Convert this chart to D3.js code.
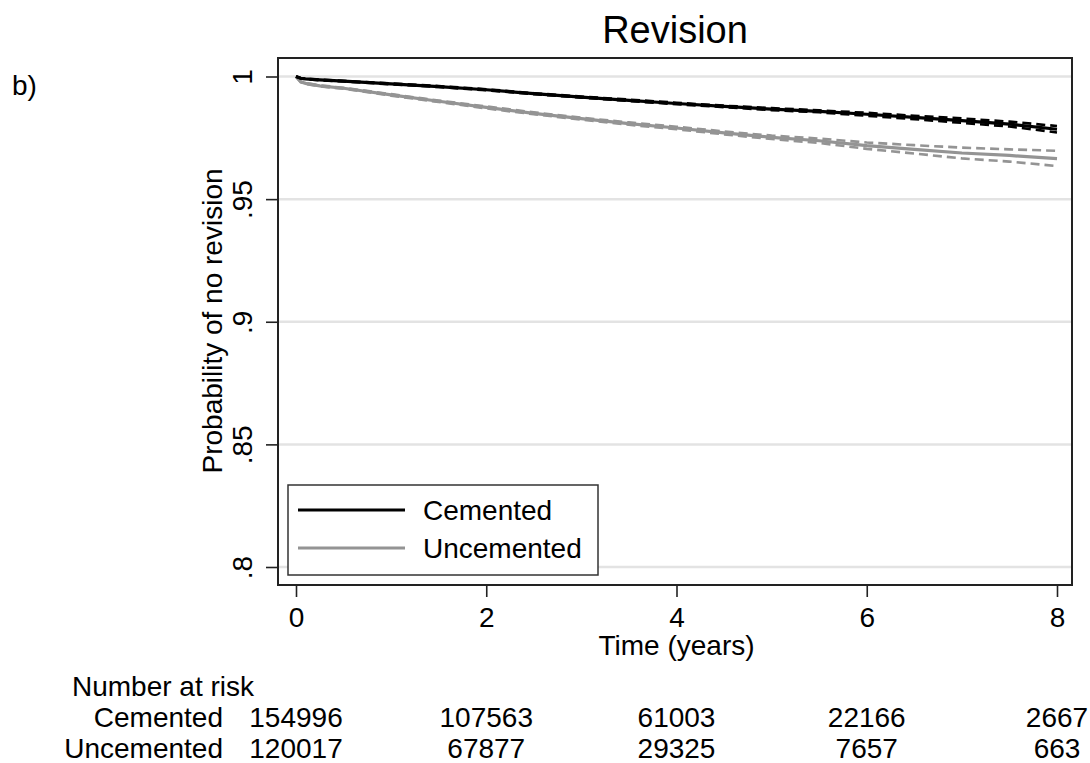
<!DOCTYPE html>
<html>
<head>
<meta charset="utf-8">
<script src="https://cdn.jsdelivr.net/npm/d3@7"></script>
<style>
  html, body { margin: 0; padding: 0; background: #fff; }
  svg { display: block; font-family: "Liberation Sans", Arial, sans-serif; }
</style>
</head>
<body>
<svg id="chart" width="1090" height="763"></svg>
<script>
// Kaplan-Meier estimates of revision-free survival with 95% confidence bands
const times = [0, 0.05, 0.1, 0.25, 0.5, 1, 1.5, 2, 2.5, 3, 3.5, 4, 4.5, 5, 5.5, 6, 6.5, 7, 7.5, 8];

const cemented      = [1, 0.9993, 0.9990, 0.9986, 0.9981, 0.9970, 0.9959, 0.9946, 0.9930, 0.9916, 0.9903, 0.9890, 0.9878, 0.9867, 0.9858, 0.9846, 0.9833, 0.9820, 0.9806, 0.9785];
const cementedUpper = [1, 0.9994, 0.9991, 0.9987, 0.9982, 0.9972, 0.9961, 0.9948, 0.9932, 0.9918, 0.9906, 0.9893, 0.9881, 0.9871, 0.9862, 0.9852, 0.9840, 0.9829, 0.9816, 0.9798];
const cementedLower = [1, 0.9992, 0.9989, 0.9985, 0.9980, 0.9968, 0.9957, 0.9944, 0.9928, 0.9914, 0.9900, 0.9887, 0.9875, 0.9863, 0.9854, 0.9840, 0.9826, 0.9811, 0.9796, 0.9772];

const uncemented      = [1, 0.9978, 0.9972, 0.9962, 0.9952, 0.9925, 0.9899, 0.9874, 0.9850, 0.9828, 0.9808, 0.9790, 0.9770, 0.9752, 0.9738, 0.9718, 0.9703, 0.9688, 0.9678, 0.9665];
const uncementedUpper = [1, 0.9979, 0.9974, 0.9964, 0.9954, 0.9928, 0.9902, 0.9878, 0.9854, 0.9832, 0.9813, 0.9795, 0.9776, 0.9759, 0.9747, 0.9731, 0.9720, 0.9710, 0.9703, 0.9697];
const uncementedLower = [1, 0.9977, 0.9970, 0.9960, 0.9950, 0.9922, 0.9896, 0.9870, 0.9846, 0.9824, 0.9803, 0.9785, 0.9764, 0.9745, 0.9729, 0.9705, 0.9686, 0.9666, 0.9653, 0.9635];

const yTicks = [0.8, 0.85, 0.9, 0.95, 1];
const yTickLabels = [".8", ".85", ".9", ".95", "1"];
const xTicks = [0, 2, 4, 6, 8];

const groups = ["Cemented", "Uncemented"];
const riskTimes = [0, 2, 4, 6, 8];
const riskCemented = [154996, 107563, 61003, 22166, 2667];
const riskUncemented = [120017, 67877, 29325, 7657, 663];

const svg = d3.select("#chart");
const FONT = 28;

const frame = { left: 278, right: 1072, top: 58, bottom: 585 };
const x = d3.scaleLinear().domain([0, 8]).range([296, 1057]);
const y = d3.scaleLinear().domain([0.8, 1]).range([567, 76.5]);

// Panel letter and title
svg.append("text").attr("x", 12).attr("y", 95).attr("font-size", FONT).text("b)");
svg.append("text").attr("x", 675).attr("y", 43)
  .attr("text-anchor", "middle").attr("font-size", 38).text("Revision");

// Horizontal grid lines
svg.append("g").selectAll("line").data(yTicks).join("line")
  .attr("x1", frame.left + 1).attr("x2", frame.right - 1)
  .attr("y1", d => y(d)).attr("y2", d => y(d))
  .attr("stroke", "#e3e3e3").attr("stroke-width", 2.5);

// Survival curves and confidence limits
const line = d3.line().x(d => x(d[0])).y(d => y(d[1])).curve(d3.curveLinear);
const series = [
  { est: cemented, lo: cementedLower, hi: cementedUpper, color: "#000000" },
  { est: uncemented, lo: uncementedLower, hi: uncementedUpper, color: "#949494" }
];
// grey first so black sits on top
series.slice().reverse().forEach(s => {
  [s.lo, s.hi].forEach(b => {
    svg.append("path").attr("d", line(times.map((t, i) => [t, b[i]])))
      .attr("fill", "none").attr("stroke", s.color).attr("stroke-width", 2.6)
      .attr("stroke-dasharray", "9,5");
  });
  svg.append("path").attr("d", line(times.map((t, i) => [t, s.est[i]])))
    .attr("fill", "none").attr("stroke", s.color).attr("stroke-width", 3.2);
});

// Plot frame
svg.append("rect").attr("x", frame.left).attr("y", frame.top)
  .attr("width", frame.right - frame.left).attr("height", frame.bottom - frame.top)
  .attr("fill", "none").attr("stroke", "#222").attr("stroke-width", 2);

// Y axis
const yAxis = svg.append("g").attr("transform", `translate(${frame.left},0)`)
  .call(d3.axisLeft(y).tickValues(yTicks).tickSize(12).tickFormat((d, i) => yTickLabels[i]));
yAxis.select(".domain").remove();
yAxis.selectAll(".tick line").attr("stroke", "#222").attr("stroke-width", 1.6);
yAxis.selectAll(".tick text")
  .attr("font-size", FONT).attr("font-family", "Liberation Sans, Arial, sans-serif")
  .attr("fill", "#000").attr("x", null).attr("dy", null)
  .attr("text-anchor", "middle")
  .attr("transform", "translate(-26,0) rotate(-90)");

svg.append("text")
  .attr("transform", `translate(222,321) rotate(-90)`)
  .attr("text-anchor", "middle").attr("font-size", FONT).text("Probability of no revision");

// X axis
const xAxis = svg.append("g").attr("transform", `translate(0,${frame.bottom})`)
  .call(d3.axisBottom(x).tickValues(xTicks).tickSize(12).tickPadding(10));
xAxis.select(".domain").remove();
xAxis.selectAll(".tick line").attr("stroke", "#222").attr("stroke-width", 1.6);
xAxis.selectAll(".tick text")
  .attr("font-size", FONT).attr("font-family", "Liberation Sans, Arial, sans-serif").attr("fill", "#000");

svg.append("text").attr("x", x(4)).attr("y", 655)
  .attr("text-anchor", "middle").attr("font-size", FONT).text("Time (years)");

// Legend
const legend = svg.append("g");
legend.append("rect").attr("x", 288).attr("y", 485).attr("width", 310).attr("height", 90)
  .attr("fill", "#fff").attr("stroke", "#333").attr("stroke-width", 1.5);
groups.forEach((g, i) => {
  const ly = 510 + i * 38;
  legend.append("line").attr("x1", 298).attr("x2", 405).attr("y1", ly).attr("y2", ly)
    .attr("stroke", series[i].color).attr("stroke-width", 3);
  legend.append("text").attr("x", 423).attr("y", ly + 10).attr("font-size", FONT).text(g);
});

// Number at risk table
svg.append("text").attr("x", 72).attr("y", 696).attr("font-size", FONT).text("Number at risk");
[riskCemented, riskUncemented].forEach((row, i) => {
  const ry = 727 + i * 31;
  svg.append("text").attr("x", 223).attr("y", ry).attr("text-anchor", "end")
    .attr("font-size", FONT).text(groups[i]);
  svg.append("g").selectAll("text").data(row).join("text")
    .attr("x", (d, j) => x(riskTimes[j])).attr("y", ry)
    .attr("text-anchor", "middle").attr("font-size", FONT).text(d => d);
});
</script>
</body>
</html>
